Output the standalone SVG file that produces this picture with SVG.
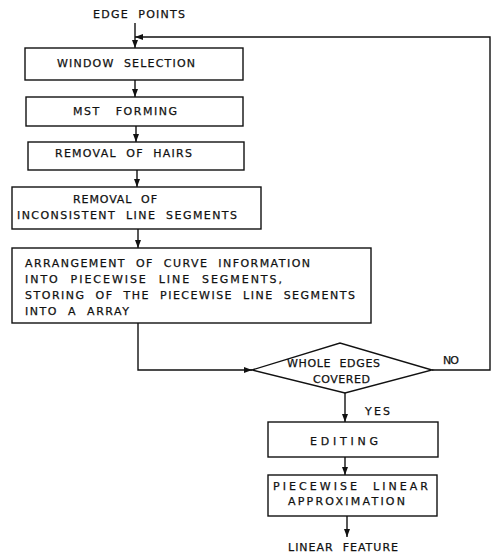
<svg xmlns="http://www.w3.org/2000/svg" width="500" height="553" viewBox="0 0 500 553">
  <style>
    .box { fill: #fff; stroke: #111; stroke-width: 1.4; }
    .line { fill: none; stroke: #111; stroke-width: 1.4; }
    text { font-family: "DejaVu Sans", "Liberation Sans", Arial, sans-serif; font-size: 11px; fill: #111; stroke: #111; stroke-width: 0.25; white-space: pre; }
  </style>
  <defs>
    <marker id="arrow" viewBox="0 0 8 6" refX="8" refY="3" markerWidth="8" markerHeight="6" markerUnits="userSpaceOnUse" orient="auto">
      <path d="M0,0 L8,3 L0,6 Z" fill="#111"/>
    </marker>
  </defs>

  <rect width="500" height="553" fill="#fff"/>

  <!-- connectors -->
  <g id="connectors">
    <path class="line" d="M135,23 V48" marker-end="url(#arrow)"/>
    <path class="line" d="M432,370 H490 V37 H135" marker-end="url(#arrow)"/>
    <path class="line" d="M135,80 V97" marker-end="url(#arrow)"/>
    <path class="line" d="M136,126 V142" marker-end="url(#arrow)"/>
    <path class="line" d="M137,170 V187" marker-end="url(#arrow)"/>
    <path class="line" d="M138,229 V248" marker-end="url(#arrow)"/>
    <path class="line" d="M138,323 V370 H252" marker-end="url(#arrow)"/>
    <path class="line" d="M345,393 V422" marker-end="url(#arrow)"/>
    <path class="line" d="M345,457 V475" marker-end="url(#arrow)"/>
    <path class="line" d="M347,516 V537" marker-end="url(#arrow)"/>
  </g>

  <g id="edge-points">
    <text x="93" y="18" textLength="92" lengthAdjust="spacing">EDGE  POINTS</text>
  </g>

  <g id="window-selection">
    <rect class="box" x="25" y="48" width="218" height="32"/>
    <text x="57" y="67" textLength="138" lengthAdjust="spacing">WINDOW  SELECTION</text>
  </g>

  <g id="mst-forming">
    <rect class="box" x="26" y="97" width="217" height="29"/>
    <text x="73" y="115" textLength="104" lengthAdjust="spacing">MST   FORMING</text>
  </g>

  <g id="removal-of-hairs">
    <rect class="box" x="28" y="142" width="216" height="28"/>
    <text x="55" y="157" textLength="137" lengthAdjust="spacing">REMOVAL  OF  HAIRS</text>
  </g>

  <g id="removal-inconsistent">
    <rect class="box" x="12" y="187" width="249" height="42"/>
    <text x="73" y="203" textLength="84" lengthAdjust="spacing">REMOVAL  OF</text>
    <text x="17" y="219" textLength="220" lengthAdjust="spacing">INCONSISTENT  LINE  SEGMENTS</text>
  </g>

  <g id="arrangement">
    <rect class="box" x="12" y="248" width="359" height="75"/>
    <text x="25" y="267" textLength="285" lengthAdjust="spacing">ARRANGEMENT  OF  CURVE  INFORMATION</text>
    <text x="25" y="283" textLength="257" lengthAdjust="spacing">INTO  PIECEWISE  LINE  SEGMENTS,</text>
    <text x="25" y="299" textLength="330" lengthAdjust="spacing">STORING  OF  THE  PIECEWISE  LINE  SEGMENTS</text>
    <text x="25" y="315" textLength="104" lengthAdjust="spacing">INTO  A  ARRAY</text>
  </g>

  <g id="whole-edges-covered">
    <polygon class="box" points="252,370 340,343 432,370 345,393"/>
    <text x="287" y="367" textLength="93" lengthAdjust="spacing">WHOLE  EDGES</text>
    <text x="313" y="383" textLength="57" lengthAdjust="spacing">COVERED</text>
    <text x="443" y="364" textLength="16" lengthAdjust="spacing">NO</text>
    <text x="365" y="415" textLength="25" lengthAdjust="spacing">YES</text>
  </g>

  <g id="editing">
    <rect class="box" x="268" y="422" width="170" height="35"/>
    <text x="310" y="445" textLength="68" lengthAdjust="spacing">EDITING</text>
  </g>

  <g id="piecewise-linear">
    <rect class="box" x="268" y="475" width="169" height="41"/>
    <text x="273" y="490" textLength="155" lengthAdjust="spacing">PIECEWISE  LINEAR</text>
    <text x="288" y="505" textLength="117" lengthAdjust="spacing">APPROXIMATION</text>
  </g>

  <g id="linear-feature">
    <text x="288" y="551" textLength="110" lengthAdjust="spacing">LINEAR  FEATURE</text>
  </g>
</svg>
